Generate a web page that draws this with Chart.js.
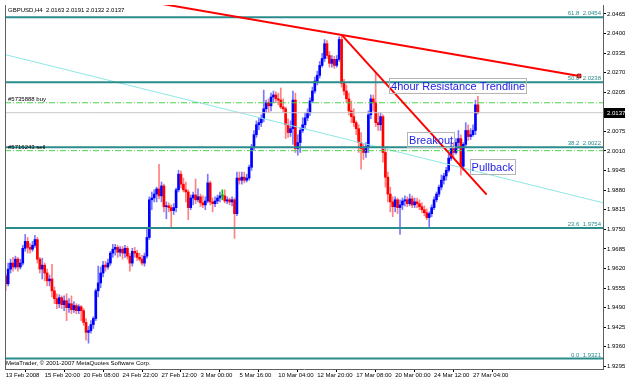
<!DOCTYPE html>
<html>
<head>
<meta charset="utf-8">
<script src="https://cdn.jsdelivr.net/npm/chart.js@4"></script>
<style>
  html, body { margin: 0; padding: 0; background: #fff; }
</style>
</head>
<body>
<canvas id="chart" width="625" height="380"></canvas>
<script>
'use strict';

// GBPUSD H4 bars (bar index = position from the left)
const opens = [
  1.9595, 1.9569, 1.9618, 1.9638, 1.9625, 1.9651, 1.9625, 1.9638, 1.9687, 1.9710,
  1.9690, 1.9684, 1.9697, 1.9716, 1.9651, 1.9618, 1.9631, 1.9605, 1.9579, 1.9585,
  1.9546, 1.9520, 1.9503, 1.9523, 1.9500, 1.9513, 1.9490, 1.9503, 1.9483, 1.9497,
  1.9480, 1.9493, 1.9480, 1.9441, 1.9408, 1.9414, 1.9434, 1.9454, 1.9546, 1.9572,
  1.9605, 1.9631, 1.9625, 1.9638, 1.9671, 1.9684, 1.9690, 1.9674, 1.9684, 1.9671,
  1.9687, 1.9661, 1.9638, 1.9677, 1.9671, 1.9657, 1.9651, 1.9638, 1.9661, 1.9723,
  1.9848, 1.9854, 1.9867, 1.9884, 1.9861, 1.9894, 1.9825, 1.9828, 1.9822, 1.9812,
  1.9822, 1.9881, 1.9933, 1.9900, 1.9881, 1.9874, 1.9822, 1.9854, 1.9864, 1.9848,
  1.9858, 1.9838, 1.9831, 1.9844, 1.9904, 1.9841, 1.9835, 1.9844, 1.9854, 1.9861,
  1.9861, 1.9844, 1.9848, 1.9841, 1.9848, 1.9802, 1.9920, 1.9913, 1.9923, 1.9913,
  1.9920, 1.9956, 2.0022, 2.0064, 2.0097, 2.0104, 2.0117, 2.0150, 2.0170, 2.0160,
  2.0189, 2.0196, 2.0183, 2.0179, 2.0156, 2.0150, 2.0097, 2.0071, 2.0084, 2.0179,
  2.0018, 2.0038, 2.0078, 2.0097, 2.0120, 2.0137, 2.0176, 2.0209, 2.0242, 2.0261,
  2.0294, 2.0317, 2.0366, 2.0327, 2.0301, 2.0314, 2.0294, 2.0314, 2.0380, 2.0235,
  2.0209, 2.0183, 2.0143, 2.0124, 2.0104, 2.0084, 2.0038, 2.0018, 2.0005, 2.0025,
  2.0130, 2.0183, 2.0170, 2.0104, 2.0097, 2.0124, 2.0005, 1.9923, 1.9867, 1.9841,
  1.9825, 1.9848, 1.9822, 1.9831, 1.9844, 1.9848, 1.9835, 1.9851, 1.9831, 1.9841,
  1.9835, 1.9825, 1.9815, 1.9805, 1.9789, 1.9802, 1.9822, 1.9848, 1.9867, 1.9890,
  1.9913, 1.9927, 1.9946, 1.9986, 2.0018, 2.0005, 2.0038, 2.0051, 1.9959, 2.0032,
  2.0078, 2.0058, 2.0064, 2.0078, 2.0163
];
const highs = [
  1.9602, 1.9638, 1.9651, 1.9657, 1.9661, 1.9657, 1.9651, 1.9697, 1.9733, 1.9723,
  1.9703, 1.9710, 1.9730, 1.9723, 1.9657, 1.9654, 1.9638, 1.9618, 1.9598, 1.9634,
  1.9559, 1.9536, 1.9533, 1.9529, 1.9529, 1.9536, 1.9520, 1.9529, 1.9510, 1.9503,
  1.9500, 1.9497, 1.9487, 1.9454, 1.9428, 1.9447, 1.9460, 1.9552, 1.9628, 1.9625,
  1.9644, 1.9644, 1.9651, 1.9677, 1.9700, 1.9700, 1.9697, 1.9693, 1.9693, 1.9697,
  1.9693, 1.9671, 1.9687, 1.9690, 1.9680, 1.9671, 1.9664, 1.9671, 1.9753, 1.9858,
  1.9874, 1.9881, 1.9890, 1.9966, 1.9907, 1.9900, 1.9841, 1.9838, 1.9831, 1.9835,
  1.9887, 1.9946, 1.9943, 1.9920, 1.9907, 1.9881, 1.9864, 1.9874, 1.9917, 1.9884,
  1.9867, 1.9861, 1.9858, 1.9933, 1.9910, 1.9854, 1.9858, 1.9864, 1.9874, 1.9881,
  1.9881, 1.9858, 1.9854, 1.9858, 1.9854, 1.9940, 1.9940, 1.9940, 1.9940, 1.9933,
  1.9963, 2.0032, 2.0078, 2.0110, 2.0120, 2.0130, 2.0212, 2.0179, 2.0183, 2.0202,
  2.0209, 2.0206, 2.0202, 2.0219, 2.0183, 2.0156, 2.0117, 2.0110, 2.0209, 2.0202,
  2.0064, 2.0087, 2.0120, 2.0137, 2.0150, 2.0186, 2.0222, 2.0255, 2.0275, 2.0307,
  2.0334, 2.0380, 2.0376, 2.0340, 2.0327, 2.0324, 2.0327, 2.0389, 2.0393, 2.0248,
  2.0229, 2.0202, 2.0176, 2.0150, 2.0110, 2.0097, 2.0071, 2.0032, 2.0038, 2.0143,
  2.0196, 2.0196, 2.0268, 2.0137, 2.0137, 2.0130, 2.0022, 1.9940, 1.9890, 1.9858,
  1.9858, 1.9854, 1.9848, 1.9854, 1.9861, 1.9858, 1.9867, 1.9861, 1.9854, 1.9854,
  1.9848, 1.9838, 1.9828, 1.9818, 1.9808, 1.9831, 1.9858, 1.9874, 1.9897, 1.9930,
  1.9936, 1.9956, 1.9999, 2.0038, 2.0038, 2.0051, 2.0078, 2.0064, 2.0038, 2.0104,
  2.0097, 2.0084, 2.0097, 2.0179, 2.0191
];
const lows = [
  1.9546, 1.9562, 1.9605, 1.9611, 1.9618, 1.9611, 1.9618, 1.9631, 1.9677, 1.9671,
  1.9671, 1.9677, 1.9690, 1.9638, 1.9605, 1.9585, 1.9579, 1.9562, 1.9562, 1.9526,
  1.9503, 1.9487, 1.9490, 1.9487, 1.9480, 1.9447, 1.9474, 1.9470, 1.9474, 1.9470,
  1.9470, 1.9447, 1.9431, 1.9382, 1.9372, 1.9405, 1.9421, 1.9447, 1.9526, 1.9556,
  1.9592, 1.9611, 1.9618, 1.9631, 1.9657, 1.9664, 1.9657, 1.9661, 1.9651, 1.9657,
  1.9651, 1.9611, 1.9628, 1.9657, 1.9647, 1.9644, 1.9631, 1.9628, 1.9654, 1.9716,
  1.9815, 1.9841, 1.9841, 1.9851, 1.9841, 1.9808, 1.9785, 1.9808, 1.9759, 1.9799,
  1.9808, 1.9874, 1.9887, 1.9874, 1.9841, 1.9782, 1.9815, 1.9831, 1.9835, 1.9841,
  1.9825, 1.9822, 1.9815, 1.9838, 1.9831, 1.9808, 1.9825, 1.9835, 1.9841, 1.9848,
  1.9838, 1.9835, 1.9831, 1.9828, 1.9720, 1.9795, 1.9900, 1.9900, 1.9904, 1.9907,
  1.9913, 1.9946, 2.0012, 2.0055, 2.0081, 2.0091, 2.0107, 2.0137, 2.0137, 2.0143,
  2.0170, 2.0170, 2.0163, 2.0150, 2.0137, 2.0051, 2.0055, 2.0058, 2.0032, 2.0005,
  1.9996, 2.0005, 2.0071, 2.0084, 2.0110, 2.0127, 2.0170, 2.0202, 2.0229, 2.0252,
  2.0288, 2.0307, 2.0317, 2.0288, 2.0288, 2.0284, 2.0288, 2.0307, 2.0222, 2.0196,
  2.0170, 2.0130, 2.0104, 2.0091, 2.0064, 2.0005, 1.9950, 1.9982, 1.9989, 2.0005,
  2.0117, 2.0143, 2.0091, 2.0078, 2.0078, 1.9973, 1.9890, 1.9841, 1.9808, 1.9792,
  1.9808, 1.9802, 1.9733, 1.9815, 1.9828, 1.9825, 1.9828, 1.9822, 1.9822, 1.9822,
  1.9815, 1.9805, 1.9795, 1.9782, 1.9759, 1.9792, 1.9815, 1.9841, 1.9858, 1.9881,
  1.9900, 1.9913, 1.9940, 1.9979, 1.9989, 1.9999, 2.0018, 1.9930, 1.9946, 2.0022,
  2.0045, 2.0048, 2.0058, 2.0064, 2.0132
];
const closes = [
  1.9569, 1.9618, 1.9638, 1.9625, 1.9651, 1.9625, 1.9638, 1.9687, 1.9710, 1.9690,
  1.9684, 1.9697, 1.9716, 1.9651, 1.9618, 1.9631, 1.9605, 1.9579, 1.9585, 1.9546,
  1.9520, 1.9503, 1.9523, 1.9500, 1.9513, 1.9490, 1.9503, 1.9483, 1.9497, 1.9480,
  1.9493, 1.9480, 1.9441, 1.9408, 1.9414, 1.9434, 1.9454, 1.9546, 1.9572, 1.9605,
  1.9631, 1.9625, 1.9638, 1.9671, 1.9684, 1.9690, 1.9674, 1.9684, 1.9671, 1.9687,
  1.9661, 1.9638, 1.9677, 1.9671, 1.9657, 1.9651, 1.9638, 1.9661, 1.9723, 1.9848,
  1.9854, 1.9867, 1.9884, 1.9861, 1.9894, 1.9825, 1.9828, 1.9822, 1.9812, 1.9822,
  1.9881, 1.9933, 1.9900, 1.9881, 1.9874, 1.9822, 1.9854, 1.9864, 1.9848, 1.9858,
  1.9838, 1.9831, 1.9844, 1.9904, 1.9841, 1.9835, 1.9844, 1.9854, 1.9861, 1.9861,
  1.9844, 1.9848, 1.9841, 1.9848, 1.9802, 1.9920, 1.9913, 1.9923, 1.9913, 1.9920,
  1.9956, 2.0022, 2.0064, 2.0097, 2.0104, 2.0117, 2.0150, 2.0170, 2.0160, 2.0189,
  2.0196, 2.0183, 2.0179, 2.0156, 2.0150, 2.0097, 2.0071, 2.0084, 2.0179, 2.0018,
  2.0038, 2.0078, 2.0097, 2.0120, 2.0137, 2.0176, 2.0209, 2.0242, 2.0261, 2.0294,
  2.0317, 2.0366, 2.0327, 2.0301, 2.0314, 2.0294, 2.0314, 2.0380, 2.0235, 2.0209,
  2.0183, 2.0143, 2.0124, 2.0104, 2.0084, 2.0038, 2.0018, 2.0005, 2.0025, 2.0130,
  2.0183, 2.0170, 2.0104, 2.0097, 2.0124, 2.0005, 1.9923, 1.9867, 1.9841, 1.9825,
  1.9848, 1.9822, 1.9831, 1.9844, 1.9848, 1.9835, 1.9851, 1.9831, 1.9841, 1.9835,
  1.9825, 1.9815, 1.9805, 1.9789, 1.9802, 1.9822, 1.9848, 1.9867, 1.9890, 1.9913,
  1.9927, 1.9946, 1.9986, 2.0018, 2.0005, 2.0038, 2.0051, 1.9959, 2.0032, 2.0078,
  2.0058, 2.0064, 2.0078, 2.0163, 2.0137
];

const timeLabels = ['13 Feb 2008', '15 Feb 20:00', '20 Feb 08:00', '24 Feb 22:00', '27 Feb 12:00',
  '3 Mar 00:00', '5 Mar 16:00', '10 Mar 04:00', '12 Mar 20:00', '17 Mar 08:00',
  '20 Mar 00:00', '24 Mar 12:00', '27 Mar 04:00'];
const barsPerLabel = 16;
const priceTicks = [2.0465, 2.0400, 2.0335, 2.0270, 2.0205, 2.0140, 2.0075, 2.0010, 1.9945,
  1.9880, 1.9815, 1.9750, 1.9685, 1.9620, 1.9555, 1.9490, 1.9425, 1.9360, 1.9295];

const fibLevels = ['61.8', '50.0', '38.2', '23.6', '0.0'];
const fibPrices = [2.0454, 2.0238, 2.0022, 1.9754, 1.9321];
const orderNames = ['#5735888 buy', '#5716243 sell'];
const orderPrices = [2.0170, 2.0011];
const bid = 2.0137;

// trendline end points as [bar index, price]
const resistanceLine = [[60, 2.0504], [235.6, 2.0259]];
const steepLine = [[138.3, 2.0393], [197.6, 1.9865]];
const channelLine = [[-0.3, 2.0330], [245.4, 1.9838]];

const notes = [
  { text: '4hour Resistance Trendline', x: 157.5, y: 2.0252 },
  { text: 'Breakout', x: 164.9, y: 2.0074 },
  { text: 'Pullback', x: 190.6, y: 1.9982 }
];

const X_MIN = -0.3, X_MAX = 245.4;
const Y_MIN = 1.92864, Y_MAX = 2.04945;
const FONT = '"Liberation Sans", Arial, sans-serif';

const dir = closes.map((c, i) => c > opens[i] ? 1 : (c < opens[i] ? -1 : 0));
const bodyColors = dir.map(d => d > 0 ? '#0000ff' : (d < 0 ? '#ff0000' : '#00c000'));
const wickColors = dir.map(d => d > 0 ? '#7878ff' : (d < 0 ? '#ff8080' : '#00c000'));

function hline(price, color, width, dash) {
    return {
        type: 'line',
        data: [{ x: X_MIN, y: price }, { x: X_MAX, y: price }],
        borderColor: color, borderWidth: width, borderDash: dash || [],
        pointRadius: 0, order: 3
    };
}
function segment(pts, color, width, extra) {
    return Object.assign({
        type: 'line',
        data: pts.map(p => ({ x: p[0], y: p[1] })),
        borderColor: color, borderWidth: width,
        pointRadius: 0, order: 1
    }, extra || {});
}

const datasets = [
    {
        type: 'bar', order: 10, grouped: false,
        data: lows.map((l, i) => ({ x: i, y: [l, highs[i]] })),
        backgroundColor: wickColors, barThickness: 1, borderWidth: 0
    },
    {
        type: 'bar', order: 9, grouped: false,
        data: opens.map((o, i) => ({ x: i, y: [o, closes[i]] })),
        backgroundColor: bodyColors, barThickness: 2, borderWidth: 0, minBarLength: 1
    },
    hline(bid, '#c8c8c8', 1),
    segment(channelLine, '#8ee6e6', 1, { order: 4 })
];
fibPrices.forEach(p => datasets.push(hline(p, '#2a8c8c', 2)));
orderPrices.forEach(p => datasets.push(hline(p, '#4cd24c', 1, [6, 2, 1, 2])));
datasets.push(segment(resistanceLine, '#ff0000', 2, {
    pointRadius: [0, 2.5], pointStyle: 'rect',
    pointBackgroundColor: '#ff3030', pointBorderColor: '#a00000', pointBorderWidth: 1
}));
datasets.push(segment(steepLine, '#ff0000', 2));

const overlay = {
    id: 'mtOverlay',
    afterDatasetsDraw(chart) {
        const { ctx, chartArea: a, scales: { x, y } } = chart;
        ctx.save();
        // fibo level captions
        ctx.font = '6px ' + FONT;
        ctx.fillStyle = '#2a8c8c';
        ctx.textAlign = 'right';
        ctx.textBaseline = 'alphabetic';
        fibPrices.forEach((p, i) => {
            ctx.fillText(fibLevels[i] + '  ' + p.toFixed(4), a.right - 2, y.getPixelForValue(p) - 2);
        });
        // order captions
        ctx.fillStyle = '#000';
        ctx.textAlign = 'left';
        orderNames.forEach((n, i) => {
            ctx.fillText(n, a.left + 3, y.getPixelForValue(orderPrices[i]) - 2);
        });
        // text objects
        ctx.font = '11px ' + FONT;
        notes.forEach(n => {
            const px = x.getPixelForValue(n.x), py = y.getPixelForValue(n.y);
            const w = ctx.measureText(n.text).width + 3;
            ctx.strokeStyle = '#b4b4b4';
            ctx.lineWidth = 1;
            ctx.strokeRect(Math.round(px) + 0.5, Math.round(py) + 0.5, Math.round(w), 15);
            ctx.fillStyle = '#2323e6';
            ctx.fillText(n.text, px + 2, py + 12);
        });
        // chart header and footer
        ctx.font = '6px ' + FONT;
        ctx.fillStyle = '#000';
        const last = closes.length - 1;
        ctx.fillText('GBPUSD,H4  ' + [opens[last], highs[last], lows[last], closes[last]]
            .map(v => v.toFixed(4)).join(' '), a.left + 3, a.top + 7);
        ctx.fillText('MetaTrader, \u00a9 2001-2007 MetaQuotes Software Corp.', a.left + 1, a.bottom - 4);
        // frame on the left
        ctx.strokeStyle = '#606060';
        ctx.beginPath();
        ctx.moveTo(a.left + 0.5, a.top);
        ctx.lineTo(a.left + 0.5, a.bottom);
        ctx.stroke();
        // bid label on the price scale
        const by = Math.round(y.getPixelForValue(bid));
        ctx.fillStyle = '#000';
        ctx.fillRect(a.right + 1, by - 5, chart.width - a.right - 1, 10);
        ctx.fillStyle = '#fff';
        ctx.fillText(bid.toFixed(4), a.right + 4, by + 2);
        ctx.restore();
    }
};

new Chart(document.getElementById('chart'), {
    data: { datasets: datasets },
    options: {
        responsive: false,
        animation: false,
        devicePixelRatio: 1,
        layout: { padding: { top: 1, left: 2 } },
        plugins: { legend: { display: false }, tooltip: { enabled: false } },
        scales: {
            x: {
                type: 'linear', min: X_MIN, max: X_MAX, offset: false,
                grid: { drawOnChartArea: false, drawTicks: true, tickLength: 3, color: '#000' },
                border: { display: true, color: '#606060' },
                ticks: {
                    align: 'start', padding: 0, maxRotation: 0, autoSkip: false,
                    color: '#000', font: { family: FONT, size: 6 },
                    callback: v => timeLabels[Math.round(v / barsPerLabel)]
                },
                afterBuildTicks: s => { s.ticks = timeLabels.map((t, k) => ({ value: k * barsPerLabel })); },
                afterFit: s => { s.height = 11; s.paddingLeft = 0; s.paddingRight = 0; }
            },
            y: {
                position: 'right', min: Y_MIN, max: Y_MAX,
                grid: { drawOnChartArea: false, drawTicks: true, tickLength: 3, color: '#000' },
                border: { display: true, color: '#606060' },
                ticks: {
                    padding: 1, color: '#000', font: { family: FONT, size: 6 },
                    callback: v => v.toFixed(4)
                },
                afterBuildTicks: s => { s.ticks = priceTicks.map(v => ({ value: v })); },
                afterFit: s => { s.width = 22; s.paddingTop = 0; s.paddingBottom = 0; }
            }
        }
    },
    plugins: [overlay]
});
</script>
</body>
</html>
